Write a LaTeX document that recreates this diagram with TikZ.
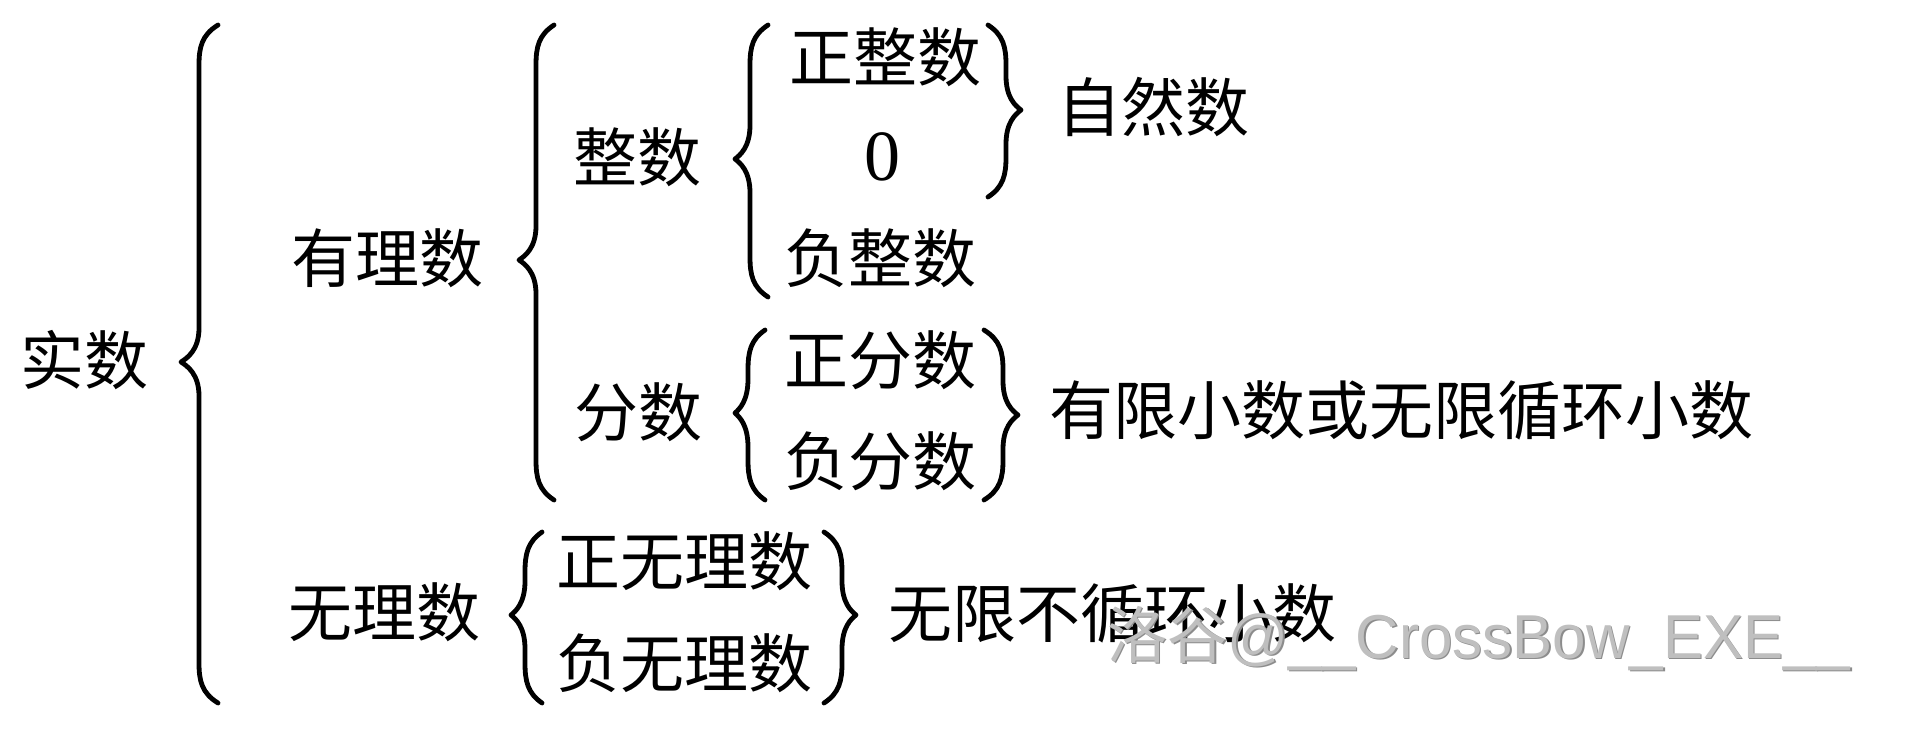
\documentclass[tikz,border=0pt]{standalone}
\usepackage{fontspec}
\newfontfamily\cjk{Noto Sans CJK SC}
\newfontfamily\serifnum{Liberation Serif}
\newfontfamily\wmlat{Liberation Sans}
% #1 tip x, #2 stem x, #3 end x, #4 top y, #5 tip y, #6 bottom y
\newcommand\mybrace[6]{%
  \draw[bracestyle] (#3,#4) .. controls ({#2+0.15*(#3-#2)},{#4+10}) and (#2,{#4+22}) .. (#2,{#4+40})
    -- (#2,{#5-34}) .. controls (#2,{#5-12}) and ({#1+0.35*(#2-#1)},{#5-4}) .. (#1,#5)
    .. controls ({#1+0.35*(#2-#1)},{#5+4}) and (#2,{#5+12}) .. (#2,{#5+34})
    -- (#2,{#6-40}) .. controls (#2,{#6-22}) and ({#2+0.15*(#3-#2)},{#6-10}) .. (#3,#6);}
\tikzset{
  lbl/.style={font=\cjk\fontsize{32}{38}\selectfont, inner sep=0pt},
  numlbl/.style={font=\serifnum\fontsize{36}{42}\selectfont, inner sep=0pt},
  bracestyle/.style={line width=2.4pt, line cap=round, line join=round},
  wmark/.style={font=\fontsize{31}{37}\selectfont, inner sep=0pt, anchor=base west, text=black!25, xscale=0.97, transform shape}
}
\begin{document}
\begin{tikzpicture}[x=0.5pt,y=-0.5pt]
\useasboundingbox[fill=white] (0,0) rectangle (1920,729);
% labels
\node[lbl] (shishu) at (84,360) {实数};
\node[lbl] (youli) at (387,258) {有理数};
\node[lbl] (wuli) at (384,612) {无理数};
\node[lbl] (zhengshu) at (637,157) {整数};
\node[lbl] (fenshu) at (638,412) {分数};
\node[lbl] (zzs) at (885,57) {正整数};
\node[numlbl] (zero) at (882,157) {0};
\node[lbl] (fzs) at (880,258) {负整数};
\node[lbl] (zfs) at (880,360) {正分数};
\node[lbl] (ffs) at (880,461) {负分数};
\node[lbl] (zwl) at (684,561) {正无理数};
\node[lbl] (fwl) at (684,663) {负无理数};
\node[lbl] (zrs) at (1153,107) {自然数};
\node[lbl] (yxxs) at (1401,410) {有限小数或无限循环小数};
\node[lbl] (wxbxh) at (1112,613) {无限不循环小数};
% braces
\mybrace{181}{199}{218}{25}{362}{703}
\mybrace{519}{536}{554}{25}{260}{500}
\mybrace{735}{750}{768}{25}{159}{297}
\mybrace{735}{748}{765}{330}{413}{500}
\mybrace{511}{525}{542}{532}{615}{703}
\mybrace{1021}{1006}{988}{25}{110}{197}
\mybrace{1018}{1003}{984}{330}{415}{500}
\mybrace{856}{842}{824}{532}{615}{703}
% watermark
\node[wmark, text=black!45] (wmshadow) at (1108.5,659.5) {\cjk 洛谷\wmlat @\_\_CrossBow\_EXE\_\_};
\node[wmark] (wm) at (1107,658) {\cjk 洛谷\wmlat @\_\_CrossBow\_EXE\_\_};
\end{tikzpicture}
\end{document}
